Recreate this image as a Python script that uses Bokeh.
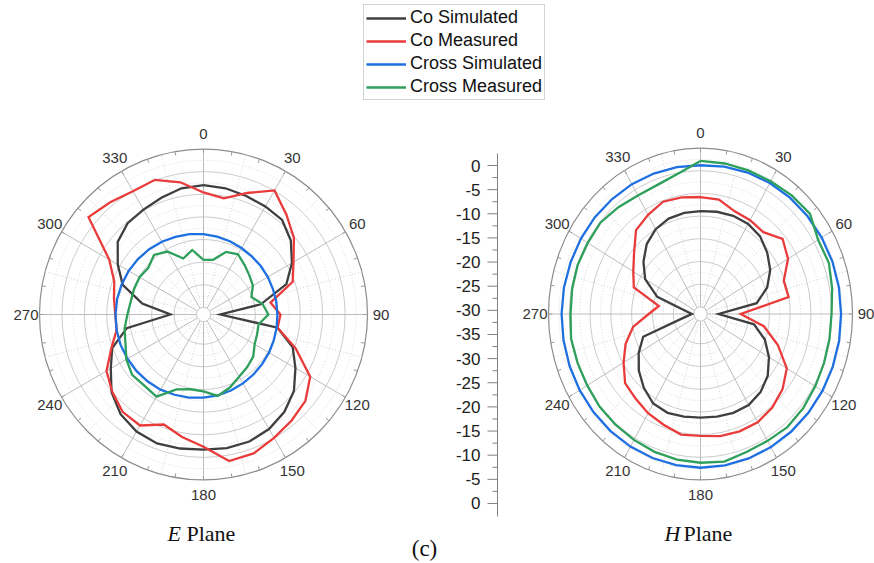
import numpy as np
from bokeh.plotting import figure
from bokeh.models import Range1d, Legend, LegendItem
from bokeh.core.properties import value
from bokeh.embed import file_html
from bokeh.resources import INLINE

# ---------------- data ----------------
angles = list(range(0, 360, 10))

e_co_sim = [-8.0, -8.25, -8.7, -9.0, -9.3, -11.15, -13.8, -16.9, -23.6, -32.8,
            -19.8, -15.4, -12.9, -10.25, -8.5, -7.35, -6.7, -6.6, -6.7, -6.5,
            -6.25, -6.7, -7.8, -9.8, -12.7, -14.9, -19.2, -29.2, -22.7, -17.4,
            -14.5, -11.6, -10.25, -9.8, -9.1, -8.25]
e_co_meas = [-9.6, -10.5, -8.0, -4.9, -7.8, -10.25, -13.4, -15.4, -21.4, -19.4,
             -19.8, -14.7, -9.1, -6.9, -6.0, -5.1, -3.9, -3.7, -7.35, -9.1,
             -10.7, -8.25, -8.5, -10.0, -11.6, -14.7, -16.9, -16.9, -16.3, -15.4,
             -12.3, -3.1, -4.2, -5.1, -4.9, -6.9]
e_x_sim = [-18.8, -19.1, -19.35, -19.6, -19.8, -19.9, -20.0, -20.1, -20.1, -20.1,
           -20.0, -19.9, -19.7, -19.5, -19.25, -19.0, -18.7, -18.4, -18.2, -17.9,
           -17.7, -17.4, -17.25, -17.1, -17.0, -16.9, -16.9, -16.95, -17.0, -17.15,
           -17.3, -17.5, -17.75, -18.0, -18.3, -18.55]
e_x_meas = [-24.5, -24.3, -21.85, -21.2, -22.3, -23.2, -23.85, -25.2, -23.2, -22.1,
            -24.1, -23.85, -23.4, -22.1, -21.4, -20.7, -19.4, -18.3, -19.6, -19.8,
            -18.95, -15.6, -16.05, -15.8, -16.7, -18.05, -18.7, -19.6, -20.1, -20.1,
            -20.1, -20.5, -19.4, -20.5, -23.4, -22.1]

h_co_sim = [-13.9, -13.7, -13.55, -13.65, -14.25, -15.6, -17.2, -19.5, -22.85, -32.2,
            -23.5, -20.1, -17.55, -15.45, -14.1, -13.4, -13.4, -13.6, -13.75, -13.6,
            -13.4, -13.8, -15.35, -17.2, -19.4, -21.9, -32.9, -34.5, -33.1, -25.5,
            -21.2, -18.65, -16.45, -15.0, -14.2, -13.95]
h_co_meas = [-10.8, -11.0, -12.5, -12.7, -13.05, -10.8, -12.25, -15.25, -15.05, -26.9,
             -21.1, -16.8, -12.6, -10.8, -9.7, -9.05, -9.05, -9.25, -9.7, -9.6,
             -10.6, -11.35, -12.25, -12.9, -15.2, -17.4, -20.1, -24.1, -26.4, -19.5,
             -17.9, -15.7, -12.45, -11.35, -10.25, -10.5]
h_x_sim = [-3.8, -3.6, -3.4, -3.25, -3.1, -3.0, -2.9, -2.8, -2.75, -2.75,
           -2.7, -2.7, -2.7, -2.7, -2.7, -2.7, -2.7, -2.7, -2.7, -2.75,
           -2.8, -2.85, -2.9, -2.95, -3.0, -3.05, -3.1, -3.15, -3.2, -3.3,
           -3.35, -3.4, -3.5, -3.55, -3.65, -3.7]
h_x_meas = [-2.85, -2.9, -2.9, -2.8, -2.45, -2.2, -3.9, -3.7, -4.4, -5.05,
            -5.05, -4.95, -4.7, -4.3, -4.05, -4.3, -4.2, -3.55, -3.8, -4.0,
            -4.25, -4.55, -4.75, -4.85, -5.1, -5.1, -4.95, -5.3, -5.2, -5.1,
            -5.25, -5.2, -5.85, -6.45, -6.3, -5.2]

series_names = ["Co Simulated", "Co Measured", "Cross Simulated", "Cross Measured"]
angle_labels = ["0", "30", "60", "90", "120", "150", "180", "210", "240", "270", "300", "330"]
scale_labels = ["0", "-5", "-10", "-15", "-20", "-25", "-30", "-35",
                "-30", "-25", "-20", "-15", "-10", "-5", "0"]
panel_titles = ["E", "H"]

# ---------------- layout / style ----------------
W, H = 874, 563
R_MIN, R_MAX = -35.0, 0.0
HOLE = 0.043
PANEL_E = (203.0, 314.0, 164.0, 165.5)
PANEL_H = (700.0, 313.5, 152.0, 166.0)
LABEL_GAP = (13.5, 15.0)   # px beyond outer ring (horizontal, vertical)
COLORS = ["#3f3f3f", "#ea3b3b", "#1e6fe0", "#2f9f5c"]
LW = 2.3

p = figure(width=W, height=H, x_range=Range1d(0, W), y_range=Range1d(H, 0),
           output_backend="svg", toolbar_location=None, min_border=0,
           x_axis_location=None, y_axis_location=None)
p.grid.visible = False
p.outline_line_color = None
p.background_fill_color = "white"


def frac(db):
    return HOLE + (np.asarray(db, dtype=float) - R_MIN) / (R_MAX - R_MIN) * (1 - HOLE)


def to_xy(panel, ang, f):
    cx, cy, rx, ry = panel
    t = np.radians(np.asarray(ang, dtype=float))
    f = np.asarray(f, dtype=float)
    return cx + rx * f * np.sin(t), cy - ry * f * np.cos(t)


def draw_grid(panel):
    cx, cy, rx, ry = panel
    levels = np.arange(R_MIN, R_MAX + 0.01, 2.5)
    for lv in levels:
        f = float(frac(lv))
        if abs(lv - R_MAX) < 1e-6:
            p.ellipse(x=cx, y=cy, width=2 * rx * f, height=2 * ry * f,
                      fill_color=None, line_color="#8c8c8c", line_width=1.2)
        elif abs(lv % 5) < 1e-6:
            p.ellipse(x=cx, y=cy, width=2 * rx * f, height=2 * ry * f,
                      fill_color=None, line_color="#cccccc", line_width=1)
        else:
            p.ellipse(x=cx, y=cy, width=2 * rx * f, height=2 * ry * f,
                      fill_color=None, line_color="#d9d9d9", line_width=1,
                      line_dash="1 2")
    f0, f1 = float(frac(R_MIN)), 1.0
    maj = np.arange(0, 360, 30)
    x0, y0 = to_xy(panel, maj, np.full(len(maj), f0))
    x1, y1 = to_xy(panel, maj, np.full(len(maj), f1))
    p.segment(x0=x0, y0=y0, x1=x1, y1=y1, line_color="#bdbdbd", line_width=1)
    mnr = np.arange(15, 360, 30)
    x0, y0 = to_xy(panel, mnr, np.full(len(mnr), f0))
    x1, y1 = to_xy(panel, mnr, np.full(len(mnr), f1))
    p.segment(x0=x0, y0=y0, x1=x1, y1=y1, line_color="#d4d4d4", line_width=1,
              line_dash="1 2")
    tk = np.arange(0, 360, 10)
    x0, y0 = to_xy(panel, tk, np.full(len(tk), 1.0))
    x1, y1 = to_xy(panel, tk, np.full(len(tk), 0.975))
    p.segment(x0=x0, y0=y0, x1=x1, y1=y1, line_color="#9a9a9a", line_width=1)
    la = np.radians(np.arange(0, 360, 30))
    lx = cx + (rx + LABEL_GAP[0]) * np.sin(la)
    ly = cy - (ry + LABEL_GAP[1]) * np.cos(la)
    p.text(x=lx, y=ly, text=angle_labels, text_align="center",
           text_baseline="middle", text_font=value("Liberation Sans"),
           text_font_size="15px", text_color="#333333")


def draw_curves(panel, data):
    rends = []
    for vals, col in zip(data, COLORS):
        a = angles + [angles[0] + 360]
        v = vals + [vals[0]]
        x, y = to_xy(panel, a, frac(v))
        rends.append(p.line(x, y, line_color=col, line_width=LW, line_join="miter"))
    return rends


draw_grid(PANEL_E)
draw_grid(PANEL_H)
rE = draw_curves(PANEL_E, [e_co_sim, e_co_meas, e_x_sim, e_x_meas])
rH = draw_curves(PANEL_H, [h_co_sim, h_co_meas, h_x_sim, h_x_meas])

# ---------------- middle scale ----------------
AX_X, AX_TOP, AX_STEP = 497.0, 165.0, 24.14
n = len(scale_labels)
ty = AX_TOP + AX_STEP * np.arange(n)
p.segment(x0=[AX_X], y0=[ty[0] - 12], x1=[AX_X], y1=[ty[-1] + 13],
          line_color="#808080", line_width=1)
p.segment(x0=np.full(n, AX_X - 10), y0=ty, x1=np.full(n, AX_X), y1=ty,
          line_color="#808080", line_width=1)
my = (ty[:-1] + ty[1:]) / 2
p.segment(x0=np.full(n - 1, AX_X - 5), y0=my, x1=np.full(n - 1, AX_X), y1=my,
          line_color="#808080", line_width=1)
p.text(x=np.full(n, AX_X - 17), y=ty, text=scale_labels, text_align="right",
       text_baseline="middle", text_font=value("Liberation Sans"),
       text_font_size="17px", text_color="#222222")

# ---------------- captions ----------------
cap_font = value("Liberation Serif")
for (cx, cy, rx, ry), letter in zip([PANEL_E, PANEL_H], panel_titles):
    p.text(x=[cx - 36], y=[533], text=[letter], text_align="left",
           text_baseline="middle", text_font=cap_font, text_font_style="italic",
           text_font_size="22px", text_color="#111111")
    p.text(x=[cx - 36 + 19], y=[533], text=["Plane"], text_align="left",
           text_baseline="middle", text_font=cap_font,
           text_font_size="22px", text_color="#111111")
p.text(x=[424], y=[548], text=["(c)"], text_align="center", text_baseline="middle",
       text_font=cap_font, text_font_size="23px", text_color="#111111")

# ---------------- legend ----------------
legend = Legend(items=[LegendItem(label=nm, renderers=[r]) for nm, r in zip(series_names, rE)],
                location=(363, 463), orientation="vertical")
legend.label_text_font = "Liberation Sans"
legend.label_text_font_size = "18px"
legend.label_text_color = "#111111"
legend.glyph_width = 40
legend.glyph_height = 20
legend.label_height = 20
legend.label_standoff = 4
legend.spacing = 2
legend.padding = 2
legend.margin = 0
legend.border_line_color = "#a8a8a8"
legend.border_line_width = 1
legend.background_fill_alpha = 1.0
p.add_layout(legend, "center")

open("out.html", "w").write(file_html(p, INLINE))
